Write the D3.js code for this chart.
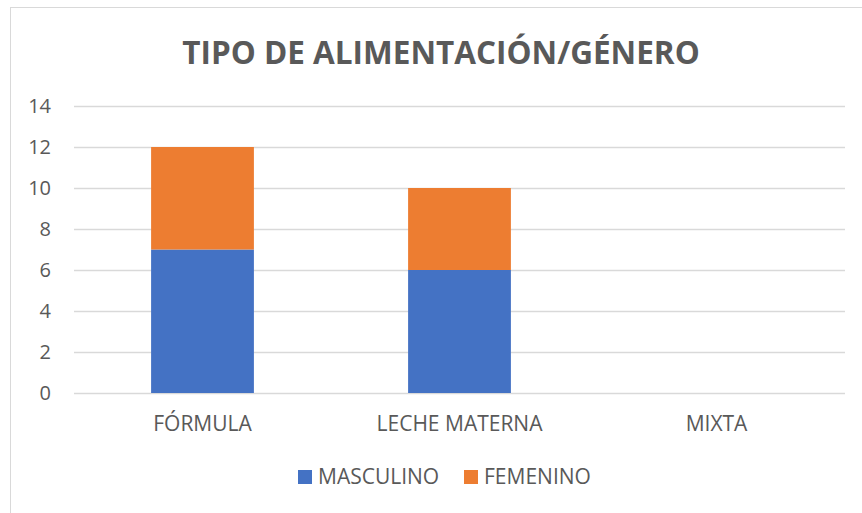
<!DOCTYPE html>
<html>
<head>
<meta charset="utf-8">
<script src="https://cdn.jsdelivr.net/npm/d3@7"></script>
<style>
  body { margin: 0; background: #fff; }
  svg text { font-family: "Open Sans", "Noto Sans", sans-serif; fill: #595959; }
</style>
</head>
<body>
<div id="chart"></div>
<script>
// Data
const categories = ["FÓRMULA", "LECHE MATERNA", "MIXTA"];
const seriesNames = ["MASCULINO", "FEMENINO"];
const masculino = [7, 6, 0];
const femenino = [5, 4, 0];
const yTicks = [0, 2, 4, 6, 8, 10, 12, 14];
const colors = ["#4472C4", "#ED7D31"];

const width = 862, height = 513;
const margin = { top: 106, right: 17, bottom: 120, left: 74 };

const svg = d3.select("#chart").append("svg")
    .attr("width", width)
    .attr("height", height);

// chart border
svg.append("rect")
    .attr("x", 10.5).attr("y", 7.5)
    .attr("width", width).attr("height", height)
    .attr("fill", "none")
    .attr("stroke", "#d9d9d9");

const x = d3.scaleBand()
    .domain(categories)
    .range([margin.left, width - margin.right])
    .padding(0);

const y = d3.scaleLinear()
    .domain([0, 14])
    .range([height - margin.bottom, margin.top]);

// gridlines
svg.append("g").selectAll("line")
    .data(yTicks)
    .join("line")
    .attr("x1", margin.left)
    .attr("x2", width - margin.right)
    .attr("y1", d => Math.round(y(d)) + 0.5)
    .attr("y2", d => Math.round(y(d)) + 0.5)
    .attr("stroke", "#d9d9d9")
    .attr("stroke-width", 1.5);

// y tick labels
svg.append("g").selectAll("text")
    .data(yTicks)
    .join("text")
    .attr("x", 51)
    .attr("y", d => y(d))
    .attr("dy", "0.35em")
    .attr("text-anchor", "end")
    .attr("font-size", 20)
    .text(d => d);

// stacked bars
const rows = categories.map((c, i) => ({ cat: c, MASCULINO: masculino[i], FEMENINO: femenino[i] }));
const stacked = d3.stack().keys(seriesNames)(rows);
const barW = x.bandwidth() * 0.4;

svg.append("g").selectAll("g")
    .data(stacked)
    .join("g")
    .attr("fill", (d, i) => colors[i])
    .selectAll("rect")
    .data(d => d)
    .join("rect")
    .attr("x", d => x(d.data.cat) + (x.bandwidth() - barW) / 2)
    .attr("y", d => y(d[1]))
    .attr("width", barW)
    .attr("height", d => y(d[0]) - y(d[1]));

// category labels
svg.append("g").selectAll("text")
    .data(categories)
    .join("text")
    .attr("x", d => x(d) + x.bandwidth() / 2)
    .attr("y", 424)
    .attr("dy", "0.35em")
    .attr("text-anchor", "middle")
    .attr("font-size", 21)
    .text(d => d);

// title
svg.append("text")
    .attr("x", 441)
    .attr("y", 53)
    .attr("dy", "0.35em")
    .attr("text-anchor", "middle")
    .attr("font-size", 31.5)
    .attr("font-weight", "bold")
    .text("TIPO DE ALIMENTACIÓN/GÉNERO");

// legend
const legendX = [298, 464];
const legend = svg.append("g").selectAll("g")
    .data(seriesNames)
    .join("g")
    .attr("transform", (d, i) => `translate(${legendX[i]}, 477)`);
legend.append("rect")
    .attr("x", 0).attr("y", -7)
    .attr("width", 14).attr("height", 14)
    .attr("fill", (d, i) => colors[i]);
legend.append("text")
    .attr("x", 20)
    .attr("y", 0)
    .attr("dy", "0.35em")
    .attr("font-size", 21)
    .text(d => d);
</script>
</body>
</html>
